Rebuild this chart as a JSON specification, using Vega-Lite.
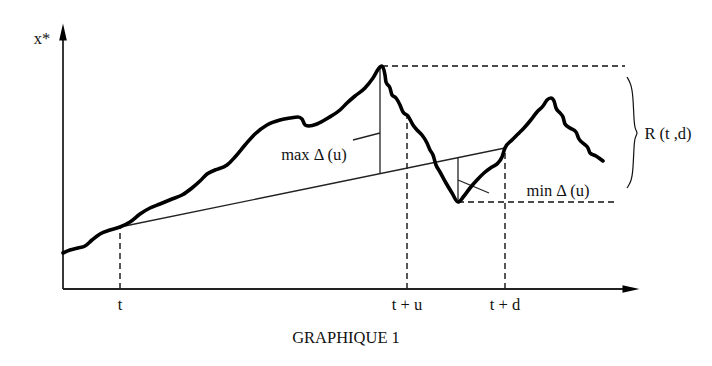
{
  "$schema": "https://vega.github.io/schema/vega-lite/v6.json",
  "width": 712,
  "height": 366,
  "autosize": {"type": "fit", "contains": "padding"},
  "padding": 0,
  "background": "white",
  "config": {"view": {"stroke": null}},
  "datasets": {
    "curve": [
      {"T": 0, "X": 36}, {"T": 7, "X": 39}, {"T": 15, "X": 41}, {"T": 22, "X": 43}, {"T": 29, "X": 49},
      {"T": 37, "X": 55}, {"T": 47, "X": 59}, {"T": 57, "X": 62}, {"T": 67, "X": 67}, {"T": 77, "X": 75},
      {"T": 87, "X": 81}, {"T": 97, "X": 85}, {"T": 109, "X": 90}, {"T": 119, "X": 94}, {"T": 129, "X": 101},
      {"T": 137, "X": 108}, {"T": 144, "X": 115}, {"T": 152, "X": 119}, {"T": 164, "X": 124}, {"T": 172, "X": 132},
      {"T": 182, "X": 144}, {"T": 192, "X": 155}, {"T": 204, "X": 164}, {"T": 217, "X": 169}, {"T": 227, "X": 171},
      {"T": 235, "X": 172}, {"T": 239, "X": 170}, {"T": 242, "X": 164}, {"T": 246, "X": 163}, {"T": 254, "X": 165},
      {"T": 265, "X": 171}, {"T": 277, "X": 179}, {"T": 284, "X": 186}, {"T": 292, "X": 193}, {"T": 302, "X": 201},
      {"T": 310, "X": 211}, {"T": 317, "X": 222}, {"T": 319, "X": 223},
      {"T": 322, "X": 214}, {"T": 323, "X": 207}, {"T": 327, "X": 201}, {"T": 329, "X": 194}, {"T": 333, "X": 191},
      {"T": 337, "X": 184}, {"T": 340, "X": 177}, {"T": 345, "X": 173}, {"T": 350, "X": 164}, {"T": 354, "X": 159},
      {"T": 359, "X": 154}, {"T": 364, "X": 146}, {"T": 367, "X": 139}, {"T": 370, "X": 134}, {"T": 373, "X": 124},
      {"T": 377, "X": 117}, {"T": 383, "X": 106}, {"T": 389, "X": 96}, {"T": 395, "X": 87},
      {"T": 401, "X": 93}, {"T": 407, "X": 101}, {"T": 414, "X": 109}, {"T": 421, "X": 116}, {"T": 429, "X": 122},
      {"T": 435, "X": 126}, {"T": 439, "X": 132}, {"T": 442, "X": 141}, {"T": 449, "X": 149}, {"T": 455, "X": 155},
      {"T": 461, "X": 161}, {"T": 467, "X": 168}, {"T": 474, "X": 177}, {"T": 480, "X": 183}, {"T": 484, "X": 189},
      {"T": 488, "X": 191}, {"T": 491, "X": 188}, {"T": 493, "X": 181}, {"T": 497, "X": 176}, {"T": 500, "X": 172},
      {"T": 502, "X": 165}, {"T": 507, "X": 161}, {"T": 513, "X": 157}, {"T": 516, "X": 150}, {"T": 521, "X": 145},
      {"T": 525, "X": 141}, {"T": 527, "X": 136}, {"T": 533, "X": 133}, {"T": 540, "X": 128}
    ],
    "solid": [
      {"T": 0, "X": 0, "T2": 0, "X2": 252, "w": "axis"},
      {"T": 0, "X": 0, "T2": 562, "X2": 0, "w": "axis"},
      {"T": 57, "X": 62, "T2": 442, "X2": 141, "w": "thin"},
      {"T": 317, "X": 115, "T2": 317, "X2": 222, "w": "thin"},
      {"T": 395, "X": 131, "T2": 395, "X2": 87, "w": "thin"},
      {"T": 290, "X": 149, "T2": 317, "X2": 156, "w": "thin"},
      {"T": 395, "X": 109, "T2": 426, "X2": 96, "w": "thin"}
    ],
    "dashed": [
      {"T": 57, "X": 0, "T2": 57, "X2": 62},
      {"T": 344, "X": 0, "T2": 344, "X2": 173},
      {"T": 442, "X": 0, "T2": 442, "X2": 141},
      {"T": 319, "X": 223, "T2": 562, "X2": 223},
      {"T": 395, "X": 87, "T2": 555, "X2": 87}
    ],
    "brace": [
      {"i": 1, "T": 564, "X": 212}, {"i": 2, "T": 568, "X": 205}, {"i": 3, "T": 570, "X": 194},
      {"i": 4, "T": 571, "X": 168}, {"i": 5, "T": 572, "X": 160}, {"i": 6, "T": 575, "X": 156},
      {"i": 7, "T": 572, "X": 152}, {"i": 8, "T": 571, "X": 144}, {"i": 9, "T": 570, "X": 117},
      {"i": 10, "T": 568, "X": 107}, {"i": 11, "T": 564, "X": 101}
    ],
    "arrows": [
      {"T": 0, "X": 257, "dir": "up"},
      {"T": 568, "X": 0, "dir": "right"}
    ],
    "labels": [
      {"T": -21, "X": 250, "label": "x*"},
      {"T": 251, "X": 134, "label": "max Δ (u)"},
      {"T": 495, "X": 98, "label": "min Δ (u)"},
      {"T": 605, "X": 155, "label": "R (t ,d)"},
      {"T": 57, "X": -16, "label": "t"},
      {"T": 344, "X": -16, "label": "t + u"},
      {"T": 442, "X": -16, "label": "t + d"},
      {"T": 283, "X": -49, "label": "GRAPHIQUE 1"}
    ]
  },
  "layer": [
    {
      "data": {"name": "dashed"},
      "mark": {"type": "rule", "color": "#111", "strokeWidth": 1.4, "strokeDash": [6, 4]},
      "encoding": {
        "x": {"field": "T", "type": "quantitative", "scale": {"domain": [-63, 649], "nice": false, "zero": false}, "axis": null},
        "y": {"field": "X", "type": "quantitative", "scale": {"domain": [-77, 289], "nice": false, "zero": false}, "axis": null},
        "x2": {"field": "T2"},
        "y2": {"field": "X2"}
      }
    },
    {
      "data": {"name": "solid"},
      "mark": {"type": "rule", "color": "#222"},
      "encoding": {
        "x": {"field": "T", "type": "quantitative", "scale": {"domain": [-63, 649], "nice": false, "zero": false}, "axis": null},
        "y": {"field": "X", "type": "quantitative", "scale": {"domain": [-77, 289], "nice": false, "zero": false}, "axis": null},
        "x2": {"field": "T2"},
        "y2": {"field": "X2"},
        "strokeWidth": {"field": "w", "type": "nominal", "scale": {"domain": ["axis", "thin"], "range": [1.8, 1.3]}, "legend": null}
      }
    },
    {
      "data": {"name": "curve"},
      "mark": {"type": "line", "color": "#000", "strokeWidth": 3.6, "interpolate": "monotone", "strokeJoin": "round", "strokeCap": "round"},
      "encoding": {
        "x": {"field": "T", "type": "quantitative", "scale": {"domain": [-63, 649], "nice": false, "zero": false}, "axis": null},
        "y": {"field": "X", "type": "quantitative", "scale": {"domain": [-77, 289], "nice": false, "zero": false}, "axis": null}
      }
    },
    {
      "data": {"name": "brace"},
      "mark": {"type": "line", "color": "#111", "strokeWidth": 1.2, "interpolate": "basis"},
      "encoding": {
        "x": {"field": "T", "type": "quantitative", "scale": {"domain": [-63, 649], "nice": false, "zero": false}, "axis": null},
        "y": {"field": "X", "type": "quantitative", "scale": {"domain": [-77, 289], "nice": false, "zero": false}, "axis": null},
        "order": {"field": "i", "type": "quantitative"}
      }
    },
    {
      "data": {"name": "arrows"},
      "mark": {"type": "point", "filled": true, "color": "#000", "opacity": 1, "size": 289},
      "encoding": {
        "x": {"field": "T", "type": "quantitative", "scale": {"domain": [-63, 649], "nice": false, "zero": false}, "axis": null},
        "y": {"field": "X", "type": "quantitative", "scale": {"domain": [-77, 289], "nice": false, "zero": false}, "axis": null},
        "shape": {"field": "dir", "type": "nominal", "scale": {"domain": ["up", "right"], "range": ["M0,-1L0.45,1L-0.45,1Z", "M1,0L-1,-0.45L-1,0.45Z"]}, "legend": null}
      }
    },
    {
      "data": {"name": "labels"},
      "mark": {"type": "text", "font": "Liberation Serif", "fontSize": 16.5, "color": "#111", "align": "center", "baseline": "middle"},
      "encoding": {
        "x": {"field": "T", "type": "quantitative", "scale": {"domain": [-63, 649], "nice": false, "zero": false}, "axis": null},
        "y": {"field": "X", "type": "quantitative", "scale": {"domain": [-77, 289], "nice": false, "zero": false}, "axis": null},
        "text": {"field": "label", "type": "nominal"}
      }
    }
  ]
}
